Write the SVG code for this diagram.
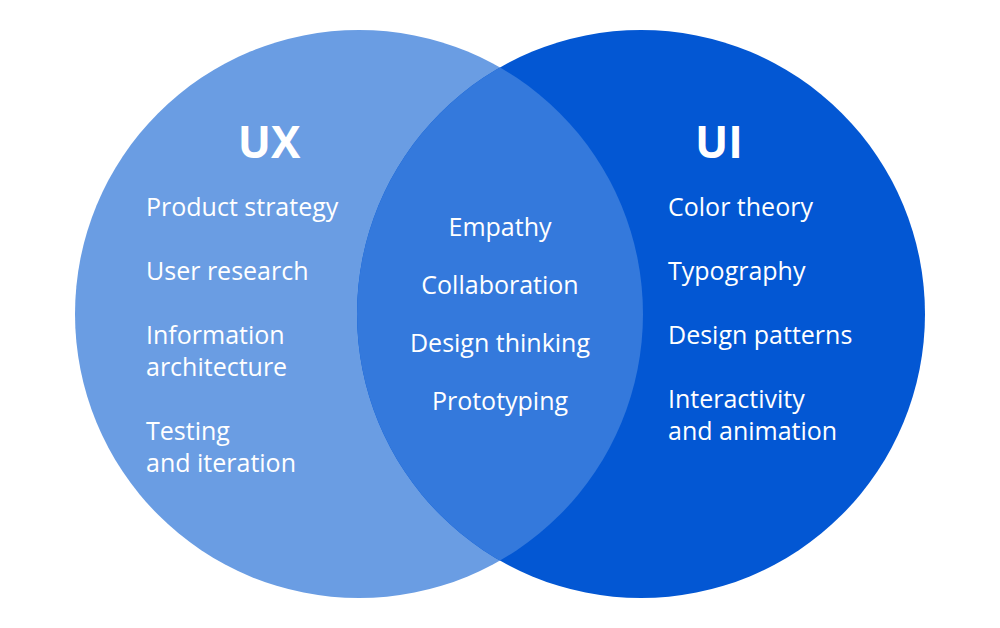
<svg xmlns="http://www.w3.org/2000/svg" width="1000" height="628" viewBox="0 0 1000 628">
<style>
text{font-family:"Open Sans","Noto Sans",sans-serif;fill:#fff;font-size:25px}
.t{font-size:44px;font-weight:bold}
.m{text-anchor:middle}
</style>
<defs><clipPath id="cl"><circle cx="359" cy="314" r="284"/></clipPath></defs>
<rect width="1000" height="628" fill="#fff"/>
<g id="ux"><circle cx="359" cy="314" r="284" fill="#6a9de3"/></g>
<g id="ui"><circle cx="641" cy="314" r="284" fill="#0357d3"/></g>
<g id="both"><circle cx="641" cy="314" r="284" fill="#3479dc" clip-path="url(#cl)"/></g>
<g id="ux-text">
<text class="t m" x="269" y="158">UX</text>
<text x="146" y="216">Product strategy</text>
<text x="146" y="280">User research</text>
<text x="146" y="344">Information</text>
<text x="146" y="376">architecture</text>
<text x="146" y="440">Testing</text>
<text x="146" y="472">and iteration</text>
</g>
<g id="mid-text">
<text class="m" x="500" y="236">Empathy</text>
<text class="m" x="500" y="294">Collaboration</text>
<text class="m" x="500" y="352">Design thinking</text>
<text class="m" x="500" y="410">Prototyping</text>
</g>
<g id="ui-text">
<text class="t m" x="719" y="158">UI</text>
<text x="668" y="216">Color theory</text>
<text x="668" y="280">Typography</text>
<text x="668" y="344">Design patterns</text>
<text x="668" y="408">Interactivity</text>
<text x="668" y="440">and animation</text>
</g>
</svg>
